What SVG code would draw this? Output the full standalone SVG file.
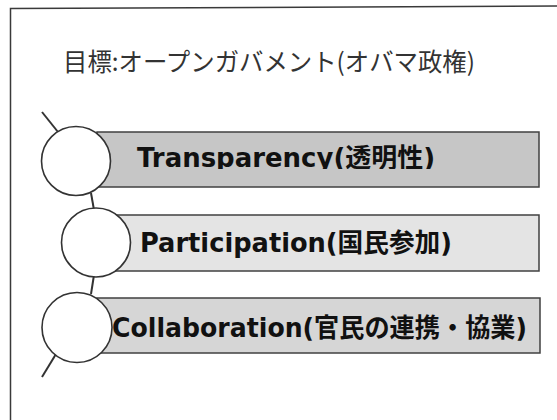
<svg xmlns="http://www.w3.org/2000/svg" width="557" height="420" viewBox="0 0 557 420">
<style>
.frame{fill:none;stroke:#3a3a3a;stroke-width:1.5}
.box{stroke:#404040;stroke-width:1.5}
.circ{fill:#fff;stroke:#333;stroke-width:1.6}
.conn{stroke:#333;stroke-width:2;fill:none}
.title{font-family:"Noto Sans CJK JP","Noto Sans",sans-serif;font-size:25px;fill:#333}
.lbl{font-family:"DejaVu Sans","Noto Sans CJK JP",sans-serif;font-weight:bold;font-size:26px;fill:#111}
</style>
<defs>
<clipPath id="clip1"><rect x="0" y="120" width="557" height="49"/></clipPath>
</defs>
<rect width="557" height="420" fill="#fff"/>
<g id="frame">
<path class="frame" d="M10.5,420 L10.5,8.5 L557,6"/>
</g>
<g id="title">
<text class="title" x="63" y="70.5" textLength="412" lengthAdjust="spacingAndGlyphs">目標:オープンガバメント(オバマ政権)</text>
</g>
<g id="connectors">
<line class="conn" x1="42" y1="112" x2="58" y2="132"/>
<line class="conn" x1="91" y1="193" x2="94" y2="210"/>
<line class="conn" x1="94" y1="275" x2="91" y2="294"/>
<line class="conn" x1="56" y1="354" x2="42" y2="377"/>
</g>
<g id="transparency">
<rect class="box" x="97" y="132" width="442" height="55" fill="#c6c6c6"/>
<circle class="circ" cx="76" cy="161" r="34.5"/>
<text class="lbl" x="137" y="166.5" textLength="298" lengthAdjust="spacingAndGlyphs" clip-path="url(#clip1)">Transparency(透明性)</text>
</g>
<g id="participation">
<rect class="box" x="110" y="215" width="429" height="56" fill="#e4e4e4"/>
<circle class="circ" cx="96" cy="242.5" r="34.5"/>
<text class="lbl" x="140" y="251.5" textLength="312" lengthAdjust="spacingAndGlyphs">Participation(国民参加)</text>
</g>
<g id="collaboration">
<rect class="box" x="97" y="298" width="443" height="55" fill="#d6d6d6"/>
<circle class="circ" cx="77" cy="327.5" r="35"/>
<text class="lbl" x="112" y="336.5" textLength="415" lengthAdjust="spacingAndGlyphs">Collaboration(官民の連携・協業)</text>
</g>
</svg>
